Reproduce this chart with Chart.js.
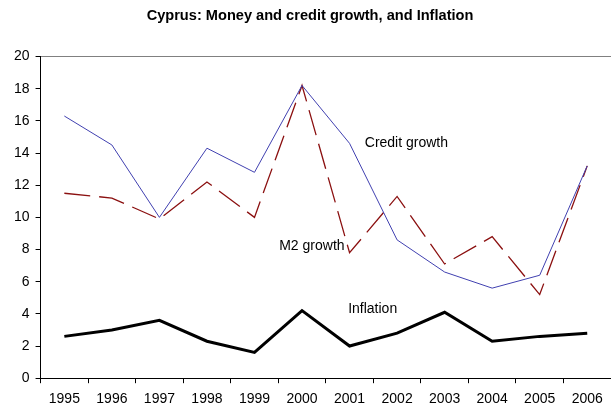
<!DOCTYPE html>
<html lang="en">
<head>
    <meta charset="UTF-8">
    <title>Cyprus: Money and credit growth, and Inflation</title>
    <script src="https://cdn.jsdelivr.net/npm/chart.js"></script>
    <style>
        html, body { margin: 0; padding: 0; background: white; }
        #wrap { width: 611px; height: 407px; position: relative; }
    </style>
</head>
<body>
    <div id="wrap"><canvas id="cyprusChart"></canvas></div>

    <script>
        const years = ['1995', '1996', '1997', '1998', '1999', '2000', '2001', '2002', '2003', '2004', '2005', '2006'];
        const creditGrowth = [16.3, 14.5, 10.0, 14.3, 12.8, 18.2, 14.6, 8.6, 6.6, 5.6, 6.4, 13.2];
        const m2Growth = [11.5, 11.2, 9.9, 12.2, 10.0, 18.2, 7.8, 11.3, 7.1, 8.8, 5.2, 13.2];
        const inflation = [2.6, 3.0, 3.6, 2.3, 1.6, 4.2, 2.0, 2.8, 4.1, 2.3, 2.6, 2.8];
        const yTicks = [0, 2, 4, 6, 8, 10, 12, 14, 16, 18, 20];

        const FONT = 'Arial, "Liberation Sans", sans-serif';

        // series names written next to the lines, placed in data units
        const seriesLabels = [
            { text: 'Credit growth', x: 6.32, y: 14.6 },
            { text: 'M2 growth', x: 4.52, y: 8.2 },
            { text: 'Inflation', x: 5.97, y: 4.3 }
        ];

        const lineLabels = {
            id: 'lineLabels',
            afterDatasetsDraw(chart) {
                const ctx = chart.ctx;
                const xs = chart.scales.x, ys = chart.scales.y;
                ctx.save();
                ctx.font = '14px ' + FONT;
                ctx.fillStyle = '#000';
                ctx.textBaseline = 'middle';
                seriesLabels.forEach(l => {
                    ctx.fillText(l.text, xs.getPixelForValue(l.x), ys.getPixelForValue(l.y));
                });
                ctx.restore();
            }
        };

        new Chart(document.getElementById('cyprusChart'), {
            type: 'line',
            data: {
                labels: years,
                datasets: [{
                    label: 'Credit growth',
                    data: creditGrowth,
                    borderColor: '#4040b0',
                    borderWidth: 1,
                    pointRadius: 0,
                    tension: 0
                }, {
                    label: 'M2 growth',
                    data: m2Growth,
                    borderColor: '#8b1010',
                    borderWidth: 1.3,
                    borderDash: [26, 9],
                    pointRadius: 0,
                    tension: 0
                }, {
                    label: 'Inflation',
                    data: inflation,
                    borderColor: '#000',
                    borderWidth: 3,
                    pointRadius: 0,
                    tension: 0
                }]
            },
            options: {
                responsive: true,
                maintainAspectRatio: false,
                animation: false,
                layout: { padding: { top: 3, right: -1, left: 8, bottom: -9 } },
                plugins: {
                    legend: { display: false },
                    tooltip: { enabled: false },
                    title: {
                        display: true,
                        text: 'Cyprus: Money and credit growth, and Inflation',
                        color: '#000',
                        font: { family: FONT, size: 14.6, weight: 'bold' },
                        padding: { top: 4, bottom: 32 }
                    }
                },
                scales: {
                    x: {
                        offset: true,
                        grid: {
                            offset: true,
                            drawOnChartArea: false,
                            tickLength: 5,
                            tickColor: '#000'
                        },
                        border: { color: '#000', width: 1 },
                        ticks: {
                            color: '#000',
                            font: { family: FONT, size: 14 },
                            maxRotation: 0,
                            autoSkip: false,
                            padding: 8
                        }
                    },
                    y: {
                        min: 0,
                        max: 20,
                        afterBuildTicks: axis => { axis.ticks = yTicks.map(v => ({ value: v })); },
                        grid: {
                            color: c => (c.tick && c.tick.value === 20) ? '#808080' : 'rgba(0,0,0,0)',
                            tickColor: '#000',
                            tickLength: 5
                        },
                        border: { color: '#000', width: 1 },
                        ticks: {
                            color: '#000',
                            font: { family: FONT, size: 14 },
                            padding: 6
                        }
                    }
                }
            },
            plugins: [lineLabels]
        });
    </script>
</body>
</html>
